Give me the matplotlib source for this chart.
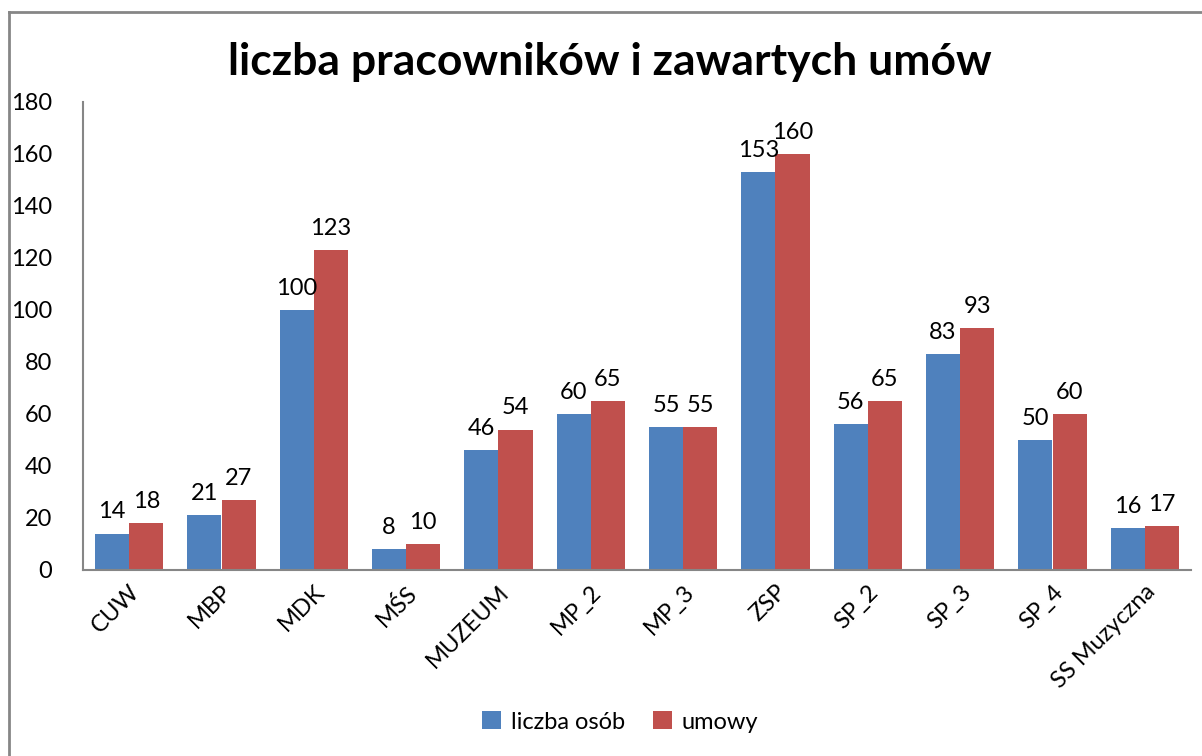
import matplotlib.pyplot as plt
import numpy as np
from matplotlib.lines import Line2D

plt.rcParams['font.family'] = ['Lato', 'DejaVu Sans']

# -----------------------------
# DATA
# -----------------------------
categories = ["CUW", "MBP", "MDK", "MŚS", "MUZEUM", "MP_2", "MP_3",
              "ZSP", "SP_2", "SP_3", "SP_4", "SS Muzyczna"]
liczba_osob = [14, 21, 100, 8, 46, 60, 55, 153, 56, 83, 50, 16]
umowy = [18, 27, 123, 10, 54, 65, 55, 160, 65, 93, 60, 17]

BLUE = "#4F81BD"
RED = "#C0504D"
AXIS_GRAY = "#868686"

# -----------------------------
# PLOT
# -----------------------------
fig = plt.figure(figsize=(12.02, 7.56), dpi=100)
ax = fig.add_axes([83 / 1202, 1 - 570 / 756, (1191 - 83) / 1202, (570 - 102) / 756])

x = np.arange(len(categories))
w = 0.37
b1 = ax.bar(x - w / 2, liczba_osob, w, color=BLUE, label="liczba osób")
b2 = ax.bar(x + w / 2, umowy, w, color=RED, label="umowy")

for bars in (b1, b2):
    for rect in bars:
        ax.annotate(f"{rect.get_height():.0f}",
                    (rect.get_x() + rect.get_width() / 2, rect.get_height()),
                    xytext=(0, 8), textcoords="offset points",
                    ha="center", va="bottom", fontsize=17)

ax.set_xlim(-0.5, len(categories) - 0.5)
ax.set_ylim(0, 180)
ax.set_yticks(range(0, 181, 20))
ax.tick_params(axis="y", length=0, labelsize=17, pad=22)
ax.tick_params(axis="x", length=0, labelsize=17, pad=8)
ax.set_xticks(x)
ax.set_xticklabels(categories, rotation=45, ha="right", rotation_mode="anchor")

for side in ("top", "right"):
    ax.spines[side].set_visible(False)
for side in ("left", "bottom"):
    ax.spines[side].set_color(AXIS_GRAY)
    ax.spines[side].set_linewidth(1.5)

fig.text(0.507, 1 - 62 / 756, "liczba pracowników i zawartych umów",
         ha="center", va="center", fontsize=32, fontweight="bold")

fig.legend(handles=[b1, b2], loc="center", bbox_to_anchor=(0.516, 1 - 722 / 756),
           ncol=2, frameon=False, fontsize=17, handlelength=0.8, handleheight=0.8,
           handletextpad=0.4, columnspacing=1.2)

# outer chart border (top and left visible)
fig.add_artist(Line2D([9 / 1202, 1], [1 - 12 / 756, 1 - 12 / 756],
                      color=AXIS_GRAY, lw=2, transform=fig.transFigure))
fig.add_artist(Line2D([9 / 1202, 9 / 1202], [0, 1 - 12 / 756],
                      color=AXIS_GRAY, lw=2, transform=fig.transFigure))

fig.savefig("out.png", dpi=100, facecolor="white")
